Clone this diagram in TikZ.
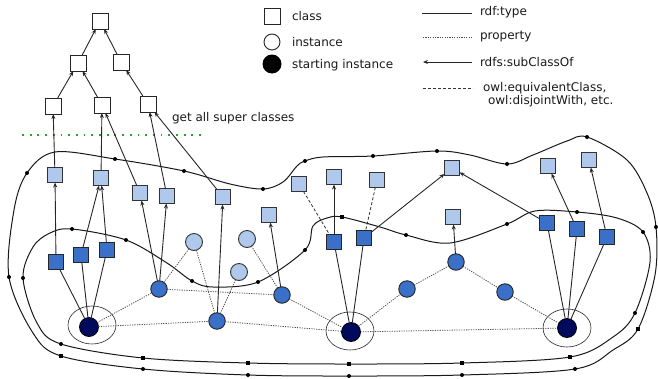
\documentclass[tikz,border=0pt]{standalone}
\usepackage{fontspec}
\setmainfont{DejaVu Sans}
\usetikzlibrary{arrows.meta,shapes.geometric}
\definecolor{lb}{HTML}{B0C8EC}
\definecolor{db}{HTML}{3A70C8}
\definecolor{nv}{HTML}{000A5C}
\definecolor{gd}{HTML}{2CA02C}
\begin{document}
\begin{tikzpicture}[x=1pt,y=-1pt,
 every node/.style={inner sep=0pt, outer sep=0pt},
 wsq/.style={draw=black!85, fill=white, minimum size=16pt, line width=0.9pt},
 lsq/.style={draw=black!80, fill=lb, minimum size=15pt, line width=1pt},
 dsq/.style={draw=black!85, fill=db, minimum size=15.5pt, line width=1pt},
 lci/.style={circle, draw=black!80, fill=lb, minimum size=17pt, line width=0.9pt},
 mci/.style={circle, draw=black!85, fill=db, minimum size=16.5pt, line width=0.9pt},
 sci/.style={circle, draw=black, fill=nv, minimum size=19pt, line width=0.8pt},
 ring/.style={ellipse, draw=black!85, line width=0.6pt, minimum width=48pt, minimum height=38pt},
 typ/.style={draw=black!85, line width=0.9pt},
 sub/.style={typ, -{Stealth[length=5pt,width=4pt]}},
 prop/.style={draw=black!70, line width=0.8pt, dash pattern=on 1.2pt off 1.2pt},
 eqv/.style={draw=black!80, line width=0.8pt, dash pattern=on 3pt off 2pt},
 region/.style={draw=black!90, line width=1pt},
 lab/.style={font=\fontsize{12}{13}\selectfont, anchor=west, text=black!90},
]
\useasboundingbox (0,0) rectangle (658,378);

% ---------- region curves ----------
\draw[region] plot[smooth cycle, tension=0.55] coordinates {
 (9,277) (14,210) (27,173) (55,152) (115,159) (184,171) (230,184) (263,189)
 (283,182) (297,166) (305,161) (323,157) (373,156) (437,151) (470,155) (507,164)
 (533,155) (567,141) (587,137) (627,160) (647,193) (656,227) (655,275) (638,329)
 (613,350) (575,369) (462,375) (349,376) (248,375) (143,369) (61,356) (33,333)};
\draw[region] plot[smooth cycle, tension=0.55] coordinates {
 (23,278) (33,247) (50,233) (72,229) (126,240) (167,263) (192,281) (213,287)
 (258,282) (305,250) (313,226) (327,218) (342,217) (380,227) (406,235) (450,243)
 (507,224) (535,211) (577,212) (617,218) (643,232) (650,262) (635,313) (613,337)
 (570,357) (462,363) (349,364) (248,363) (143,358) (61,344) (37,323)};
\foreach \p in {(9,277),(27,173),(115,159),(184,171),(263,189),(305,161),(373,156),
 (437,151),(507,164),(587,137),(656,227),(575,369),(462,375),(349,376),(248,375),(143,369),
 (23,278),(72,229),(126,240),(192,281),(258,282),(305,250),(406,235),(507,224),(577,212),
 (643,232),(635,313),(61,344)}
 \fill[black] \p circle (2pt);
\foreach \p in {(638,329),(61,356),(342,217),(570,357),(462,363),(349,364),(248,363),(143,358)}
 \fill[black] \p ++(-2.2,-2.2) rectangle ++(4.4,4.4);

% ---------- legend ----------
\node[wsq] (lgc) at (272.5,16) {};
\node[lab] (lgct) at (292,16) {class};
\node[circle, draw=black!85, fill=white, minimum size=16pt, line width=0.9pt] (lgi) at (272,42) {};
\node[lab] (lgit) at (292,42) {instance};
\node[circle, fill=black, minimum size=19pt] (lgs) at (272,64) {};
\node[lab] (lgst) at (292,65) {starting instance};

\coordinate (r1a) at (422,13); \coordinate (r1b) at (472,13);
\coordinate (r2a) at (423,37); \coordinate (r2b) at (472,37);
\coordinate (r3a) at (423,62); \coordinate (r3b) at (472,62);
\coordinate (r4a) at (423,88); \coordinate (r4b) at (473,88);
\draw[typ] (r1a) -- (r1b);
\draw[prop] (r2a) -- (r2b);
\draw[sub] (r3b) -- (r3a);
\draw[eqv] (r4a) -- (r4b);
\node[lab] (lr1) at (480,12) {rdf:type};
\node[lab] (lr2) at (480,37) {property};
\node[lab] (lr3) at (480,62) {rdfs:subClassOf};
\node[lab] (lr4) at (483,88) {owl:equivalentClass,};
\node[lab] (lr5) at (488,101) {owl:disjointWith, etc.};

% ---------- super classes ----------
\node[wsq] (W1) at (100,21) {};
\node[wsq] (W2a) at (78,63) {};
\node[wsq] (W2b) at (121,62) {};
\node[wsq] (W3a) at (53,106) {};
\node[wsq] (W3b) at (102,105) {};
\node[wsq] (W3c) at (148,104) {};
\coordinate (g1) at (22,135); \coordinate (g2) at (204,135);
\draw[gd, line width=1.8pt, dash pattern=on 1.8pt off 5.9pt] (g1) -- (g2);
\node[lab] (gtxt) at (172,118) {get all super classes};

% ---------- classes ----------
\node[lsq] (S1) at (55,175) {};
\node[lsq] (S2) at (101,178) {};
\node[lsq] (S3) at (140,193) {};
\node[lsq] (S4) at (167,196) {};
\node[lsq] (S5) at (223,197) {};
\node[lsq] (S6) at (269,215) {};
\node[lsq] (S7) at (299,184) {};
\node[lsq] (S8) at (334,177) {};
\node[lsq] (S9) at (377,180) {};
\node[lsq] (S10) at (452,168) {};
\node[lsq] (S11) at (453,217) {};
\node[lsq] (S12) at (548,166) {};
\node[lsq] (S13) at (589,160) {};

\node[dsq] (D1) at (56,262) {};
\node[dsq] (D2) at (81,255) {};
\node[dsq] (D3) at (107,250) {};
\node[dsq] (D4) at (334,242) {};
\node[dsq] (D5) at (364,238) {};
\node[dsq] (D6) at (547,223) {};
\node[dsq] (D7) at (577,229) {};
\node[dsq] (D8) at (607,237) {};

% ---------- instances ----------
\node[lci] (L1) at (194,242) {};
\node[lci] (L2) at (247,239) {};
\node[lci] (L3) at (239,272) {};
\node[mci] (C1) at (159,289) {};
\node[mci] (C2) at (217,321) {};
\node[mci] (C3) at (282,295) {};
\node[mci] (C4) at (456,262) {};
\node[mci] (C5) at (407,289) {};
\node[mci] (C6) at (505,292) {};
\node[ring] (E1) at (92,325) {};
\node[ring] (E2) at (350,331) {};
\node[ring] (E3) at (567,328) {};
\node[sci] (P1) at (89,327) {};
\node[sci] (P2) at (351,332) {};
\node[sci] (P3) at (567,328) {};

% ---------- subClassOf / typed arrows ----------
\foreach \a/\b in {W2a/W1,W2b/W1,W3a/W2a,W3b/W2a,W3c/W2b,S1/W3a,S2/W3b,S3/W3b,S4/W3c,S5/W3c,
 D1/S1,D2/S2,D3/S2,C1/S3,C1/S4,C2/S5,C3/S6,D4/S8,D5/S10,D6/S10,C4/S11,D7/S12,D8/S13}
 \draw[sub] (\a) -- (\b);
\foreach \a/\b in {P1/D1,P1/D2,P1/D3,P2/D4,P2/D5,P3/D6,P3/D7,P3/D8}
 \draw[typ] (\a) -- (\b);
\foreach \a/\b in {S7/D4,S9/D5}
 \draw[eqv] (\a) -- (\b);
\foreach \a/\b in {P1/C1,P1/C2,C2/P2,C1/C3,C1/L1,L1/C2,L3/C2,L2/C3,C3/P2,P2/C5,C5/C4,C4/C6,C6/P3,P2/P3}
 \draw[prop] (\a) -- (\b);
\end{tikzpicture}
\end{document}
